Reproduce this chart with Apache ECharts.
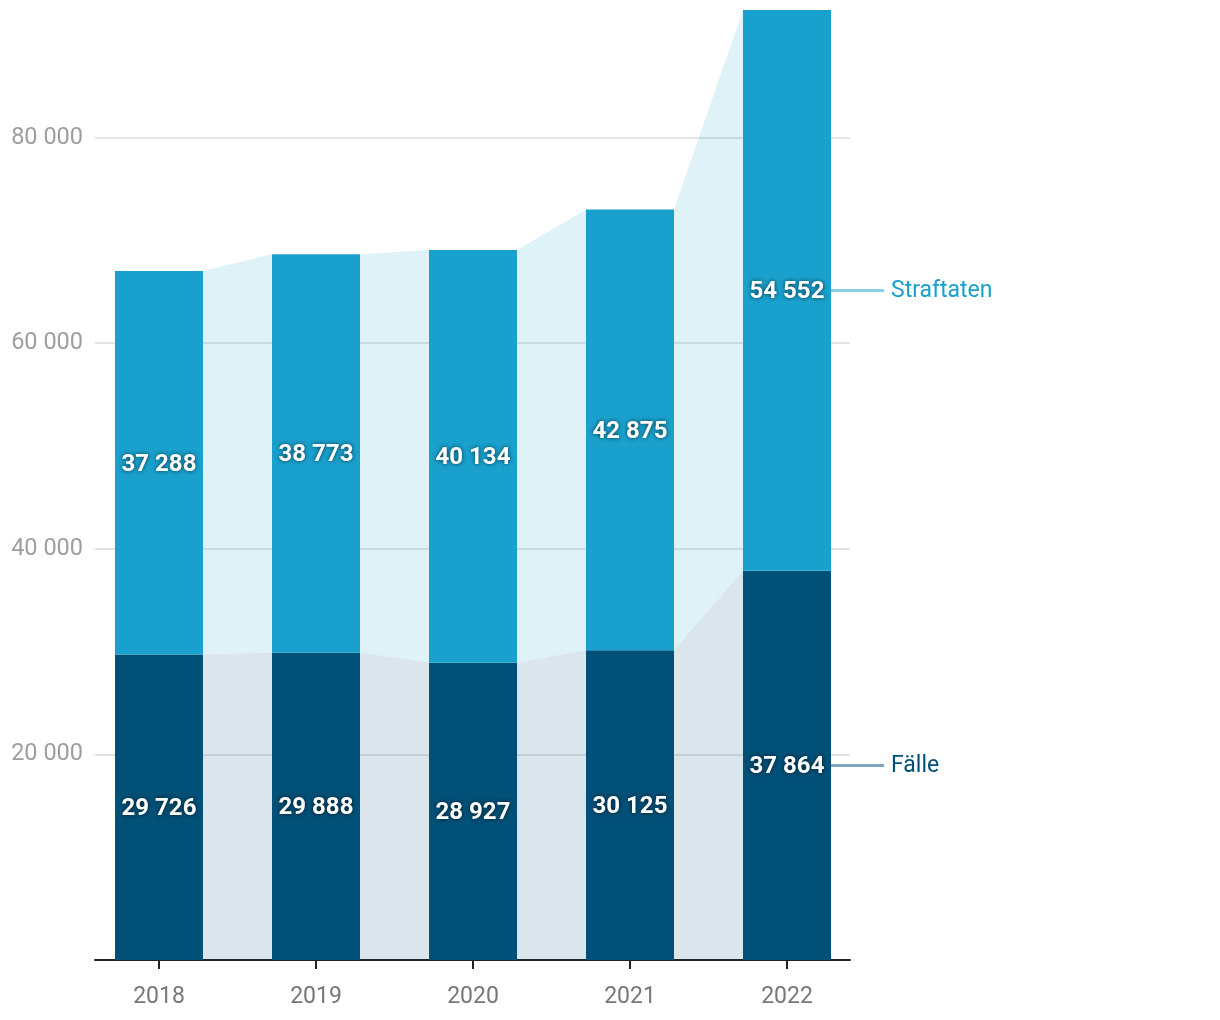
<!DOCTYPE html>
<html>
<head>
<meta charset="utf-8">
<script src="https://cdn.jsdelivr.net/npm/echarts@6/dist/echarts.min.js"></script>
<style>
html,body{margin:0;padding:0;background:#fff;}
#chart{width:1220px;height:1020px;}
</style>
</head>
<body>
<div id="chart"></div>
<script>
const years = ['2018', '2019', '2020', '2021', '2022'];
const faelle = [29726, 29888, 28927, 30125, 37864];
const straftaten = [37288, 38773, 40134, 42875, 54552];
const seriesNames = ['Fälle', 'Straftaten'];
const yTickStep = 20000;

const C_F = '#005077';
const C_S = '#19a0cc';
const BAR_W = 88;
const FONT = 'Roboto';

function fmt(v) {
  return String(Math.round(v)).replace(/\B(?=(\d{3})+(?!\d))/g, ' ');
}

const idx = years.map((_, i) => i);
const totals = idx.map(i => faelle[i] + straftaten[i]);
const yMax = Math.max.apply(null, totals);
const areaData = idx.slice(0, -1).map(i => [
  i, faelle[i], totals[i], faelle[i + 1], totals[i + 1]
]);
const last = years.length - 1;
const endData = [[last, faelle[last], totals[last]]];

const valueLabel = {
  show: true,
  position: 'inside',
  offset: [0, 2],
  color: '#fff',
  fontFamily: FONT,
  fontWeight: 'bold',
  fontSize: 24,
  textShadowColor: 'rgba(0,0,0,0.65)',
  textShadowBlur: 4,
  formatter: p => fmt(p.value)
};

const chart = echarts.init(document.getElementById('chart'), null, { renderer: 'canvas' });
chart.setOption({
  animation: false,
  backgroundColor: '#fff',
  grid: [
    { left: 80.5, right: 354.5, top: 10, bottom: 60, containLabel: false },
    { left: 95, right: 370, top: 10, bottom: 60, containLabel: false }
  ],
  xAxis: [
    {
      type: 'category',
      gridIndex: 0,
      data: years,
      boundaryGap: true,
      axisLine: { show: false },
      axisTick: { show: true, alignWithLabel: true, length: 9, lineStyle: { color: '#222', width: 2 } },
      axisLabel: { color: '#777', fontFamily: FONT, fontSize: 23, margin: 26 },
      splitLine: { show: false }
    },
    {
      type: 'value',
      gridIndex: 1,
      min: 0,
      max: 1,
      axisLine: { show: true, onZero: false, lineStyle: { color: '#222', width: 2 } },
      axisTick: { show: false },
      axisLabel: { show: false },
      splitLine: { show: false }
    }
  ],
  yAxis: [
    {
      type: 'value',
      gridIndex: 0,
      min: 0,
      max: yMax,
      show: false,
      splitLine: { show: false }
    },
    {
      type: 'value',
      gridIndex: 1,
      min: 0,
      max: yMax,
      interval: yTickStep,
      axisLine: { show: false },
      axisTick: { show: false },
      splitLine: { show: true, showMinLine: false, showMaxLine: false, lineStyle: { color: '#e4e4e4', width: 2 } },
      axisLabel: {
        showMaxLabel: false,
        showMinLabel: false,
        formatter: v => fmt(v),
        color: '#9e9e9e', fontFamily: FONT, fontSize: 23.5, margin: 12,
        padding: [4, 0, 0, 0]
      }
    }
  ],
  series: [
    {
      type: 'custom',
      name: 'areas',
      xAxisIndex: 0,
      yAxisIndex: 0,
      z: 1,
      silent: true,
      data: areaData,
      encode: { x: 0, y: [1, 2, 3, 4] },
      renderItem: function (params, api) {
        const i = api.value(0);
        const f0 = api.value(1), t0 = api.value(2), f1 = api.value(3), t1 = api.value(4);
        const half = BAR_W / 2;
        const xa = api.coord([i, 0])[0] + half;
        const xb = api.coord([i + 1, 0])[0] - half;
        const y = v => api.coord([i, v])[1];
        return {
          type: 'group',
          children: [
            {
              type: 'polygon',
              shape: { points: [[xa, y(0)], [xa, y(f0)], [xb, y(f1)], [xb, y(0)]] },
              style: { fill: C_F, opacity: 0.14 }
            },
            {
              type: 'polygon',
              shape: { points: [[xa, y(f0)], [xa, y(t0)], [xb, y(t1)], [xb, y(f1)]] },
              style: { fill: C_S, opacity: 0.14 }
            }
          ]
        };
      }
    },
    {
      type: 'bar',
      name: seriesNames[0],
      xAxisIndex: 0,
      yAxisIndex: 0,
      stack: 'total',
      barWidth: BAR_W,
      z: 3,
      itemStyle: { color: C_F },
      label: valueLabel,
      data: faelle
    },
    {
      type: 'bar',
      name: seriesNames[1],
      xAxisIndex: 0,
      yAxisIndex: 0,
      stack: 'total',
      barWidth: BAR_W,
      z: 3,
      itemStyle: { color: C_S },
      label: valueLabel,
      data: straftaten
    },
    {
      type: 'custom',
      name: 'endLabels',
      xAxisIndex: 0,
      yAxisIndex: 0,
      z: 4,
      silent: true,
      clip: false,
      data: endData,
      encode: { x: 0, y: [1, 2] },
      renderItem: function (params, api) {
        const i = api.value(0);
        const f = api.value(1), t = api.value(2);
        const x0 = api.coord([i, 0])[0] + BAR_W / 2;
        const yF = api.coord([i, f / 2])[1];
        const yS = api.coord([i, (f + t) / 2])[1];
        const mk = (yy, lineColor, textColor, text) => [
          { type: 'line', shape: { x1: x0, y1: yy, x2: x0 + 53, y2: yy }, style: { stroke: lineColor, lineWidth: 3 } },
          { type: 'text', x: x0 + 60, y: yy + 1, style: { text: text, fill: textColor, font: '23px ' + FONT, verticalAlign: 'middle', align: 'left' } }
        ];
        return {
          type: 'group',
          children: [].concat(
            mk(yS, '#8ccfe6', C_S, seriesNames[1]),
            mk(yF, '#7fa7bd', C_F, seriesNames[0])
          )
        };
      }
    }
  ]
});
</script>
</body>
</html>
